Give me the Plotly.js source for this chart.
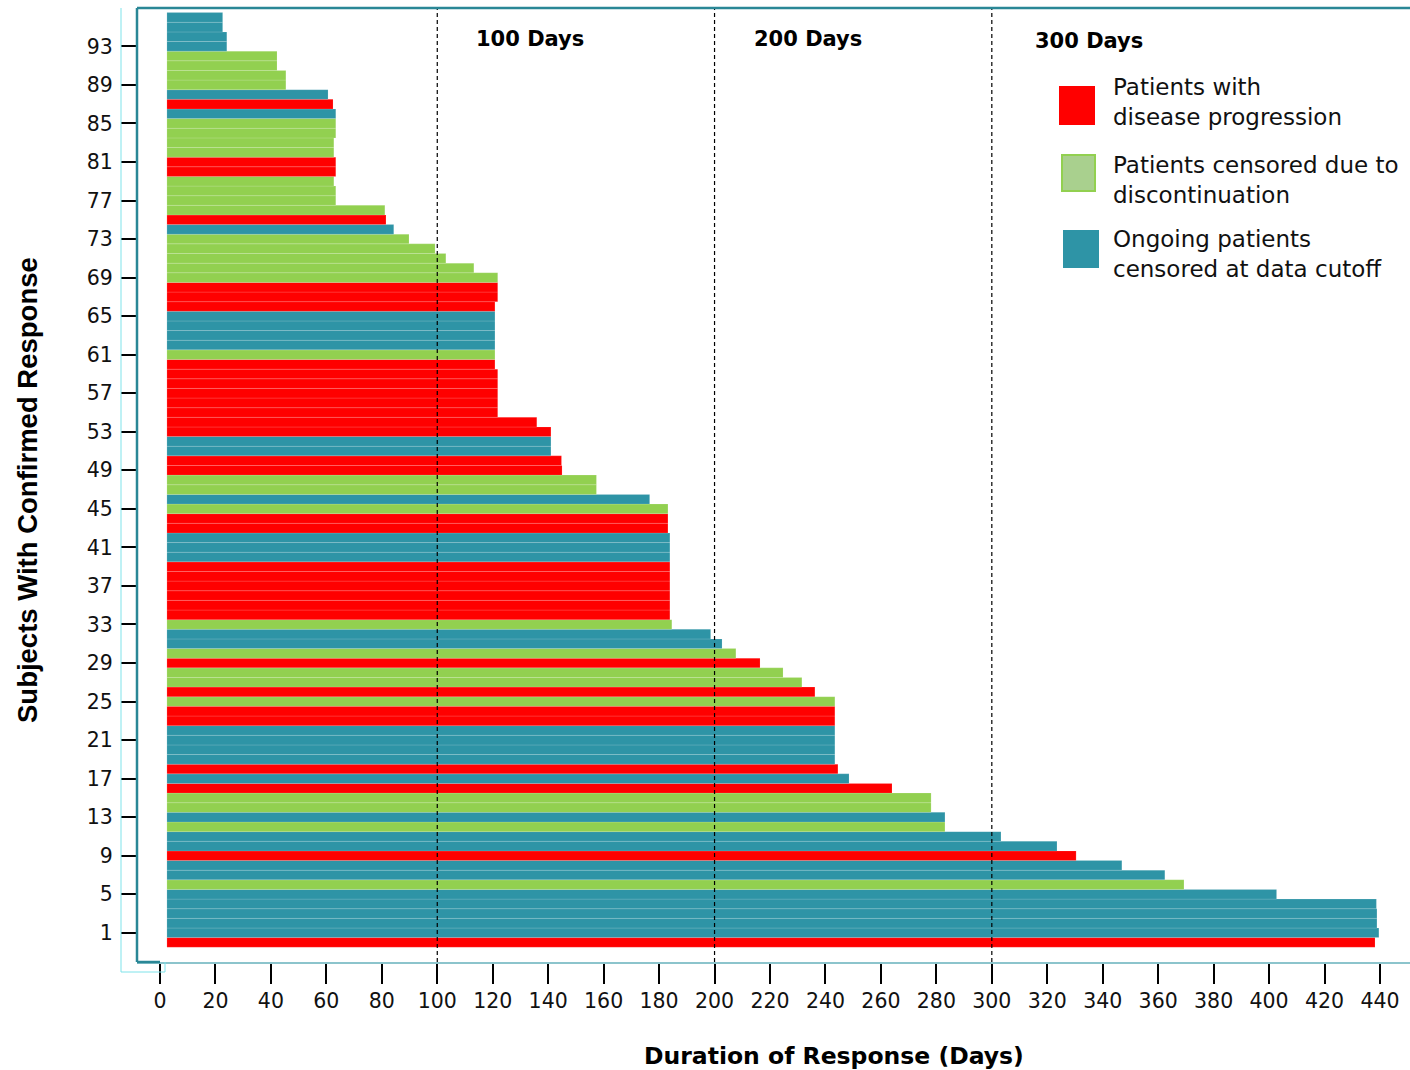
<!DOCTYPE html>
<html>
<head>
<meta charset="utf-8">
<script src="https://cdn.plot.ly/plotly-3.0.1.min.js"></script>
<style>
  html, body { margin: 0; padding: 0; background: #ffffff; }
  #chart { width: 1410px; height: 1070px; }
</style>
</head>
<body>
<div id="chart"></div>
<script>
// ---------------- DATA (subject rows from bottom to top) ----------------
// Duration of response (days, end of bar) for each subject row
const durations = [
  438.2, 439.6, 438.9, 438.9, 438.7, 402.7, 369.3, 362.4, 346.9, 330.4,
  323.5, 303.3, 283.1, 283.1, 278.1, 278.1, 264.0, 248.5, 244.5, 243.4,
  243.4, 243.4, 243.4, 243.4, 243.4, 243.4, 236.2, 231.5, 224.7, 216.4,
  207.7, 202.7, 198.6, 184.6, 183.9, 183.9, 183.9, 183.9, 183.9, 183.9,
  183.9, 183.9, 183.9, 183.2, 183.2, 183.2, 176.6, 157.4, 157.4, 145.0,
  144.8, 141.0, 141.0, 141.0, 135.9, 121.8, 121.8, 121.8, 121.8, 121.8,
  120.8, 120.8, 120.8, 120.8, 120.8, 120.8, 120.8, 121.8, 121.8, 121.8,
  113.2, 103.1, 99.2, 89.8, 84.3, 81.5, 81.1, 63.4, 63.4, 62.7,
  63.4, 63.4, 62.7, 62.7, 63.4, 63.4, 63.4, 62.4, 60.6, 45.4,
  45.4, 42.2, 42.2, 24.1, 24.1, 22.6, 22.6
];
// Status: P = disease progression, D = censored due to discontinuation, O = ongoing (censored at cutoff)
const statuses = [
  'P','O','O','O','O','O','D','O','O','P',
  'O','O','D','O','D','D','P','O','P','O',
  'O','O','O','P','P','D','P','D','D','P',
  'D','O','O','D','P','P','P','P','P','P',
  'O','O','O','P','P','D','O','D','D','P',
  'P','O','O','P','P','P','P','P','P','P',
  'P','D','O','O','O','O','P','P','P','D',
  'D','D','D','D','O','P','D','D','D','D',
  'P','P','D','D','D','D','O','P','O','D',
  'D','D','D','O','O','O','O'
];
const responseStart = 2.5;                // day at which the bars begin
const yTickVals = [1,5,9,13,17,21,25,29,33,37,41,45,49,53,57,61,65,69,73,77,81,85,89,93];
const xTickVals = [0,20,40,60,80,100,120,140,160,180,200,220,240,260,280,300,320,340,360,380,400,420,440];
const milestoneDays = [100, 200, 300];
const milestoneLabels = ['100 Days', '200 Days', '300 Days'];
const xTitle = 'Duration of Response (Days)';
const yTitle = 'Subjects With Confirmed Response';
const legendNames = {
  P: 'Patients with<br>disease progression',
  D: 'Patients censored due to<br>discontinuation',
  O: 'Ongoing patients<br>censored at data cutoff'
};

// ---------------- STYLE ----------------
const colors = { P: '#FF0000', D: '#92D050', O: '#2E94A6' };
const W = 1410, H = 1070;
const M = { l: 137, r: 0, t: 8, b: 108 };
const plotW = W - M.l - M.r, plotH = H - M.t - M.b;
const px2paperX = px => (px - M.l) / plotW;
const px2paperY = py => (H - M.b - py) / plotH;

const subjectRows = durations.map((_, i) => i);

const trace = {
  type: 'bar',
  orientation: 'h',
  y: subjectRows,
  x: durations.map(d => d - responseStart),
  base: responseStart,
  marker: {
    color: statuses.map(s => colors[s]),
    line: { color: 'rgba(255,255,255,0.28)', width: 0.5 }
  },
  hoverinfo: 'skip',
  showlegend: false
};

const frameColor = '#2A8796';
const shapes = [];
milestoneDays.forEach(d => shapes.push({
  type: 'line', xref: 'x', yref: 'paper', x0: d, x1: d, y0: 0, y1: 1,
  line: { color: '#000', width: 1.2, dash: '4px,3px' }
}));
// frame
shapes.push({ type: 'line', xref: 'paper', yref: 'paper', x0: 0, x1: 1, y0: 1, y1: 1, line: { color: frameColor, width: 2.5 } });
shapes.push({ type: 'line', xref: 'paper', yref: 'paper', x0: 0, x1: 0, y0: 0, y1: 1, line: { color: frameColor, width: 2.5 } });
shapes.push({ type: 'line', xref: 'paper', yref: 'paper', x0: 0, x1: px2paperX(160), y0: 0, y1: 0, line: { color: frameColor, width: 2.5 } });
shapes.push({
  type: 'path', xref: 'paper', yref: 'paper',
  path: `M ${px2paperX(121)} ${px2paperY(8)} L ${px2paperX(121)} ${px2paperY(972)} L ${px2paperX(165)} ${px2paperY(972)} L ${px2paperX(165)} ${px2paperY(962)}`,
  line: { color: '#7FE3EA', width: 1 }
});
// legend swatches
const legendBoxes = [
  { k: 'P', x0: 1060, x1: 1094, y0: 87, y1: 124, fill: colors.P, line: colors.P, ty: 102 },
  { k: 'D', x0: 1062, x1: 1095, y0: 155, y1: 191, fill: '#A9D08E', line: '#92D050', ty: 180 },
  { k: 'O', x0: 1064, x1: 1098, y0: 231, y1: 267, fill: colors.O, line: colors.O, ty: 254 }
];
legendBoxes.forEach(b => shapes.push({
  type: 'rect', xref: 'paper', yref: 'paper',
  x0: px2paperX(b.x0), x1: px2paperX(b.x1), y0: px2paperY(b.y1), y1: px2paperY(b.y0),
  fillcolor: b.fill, line: { color: b.line, width: 2 }
}));

const annotations = [];
const milestoneX = [530, 808, 1089], milestoneY = [39, 39, 41];
milestoneLabels.forEach((t, i) => annotations.push({
  text: '<b>' + t + '</b>', xref: 'paper', yref: 'paper',
  x: px2paperX(milestoneX[i]), y: px2paperY(milestoneY[i]),
  xanchor: 'center', yanchor: 'middle', showarrow: false,
  font: { family: 'DejaVu Sans', size: 21, color: '#000' }
}));
legendBoxes.forEach(b => annotations.push({
  text: legendNames[b.k], xref: 'paper', yref: 'paper',
  x: px2paperX(1111), y: px2paperY(b.ty), xanchor: 'left', yanchor: 'middle',
  align: 'left', showarrow: false,
  font: { family: 'DejaVu Sans', size: 23, color: '#111' }
}));
// axis titles (placed to match the original, off-centre)
annotations.push({
  text: '<b>' + xTitle + '</b>', xref: 'paper', yref: 'paper',
  x: px2paperX(834), y: px2paperY(1056), xanchor: 'center', yanchor: 'middle',
  showarrow: false, font: { family: 'DejaVu Sans', size: 23.5, color: '#000' }
});
annotations.push({
  text: '<b>' + yTitle + '</b>', xref: 'paper', yref: 'paper',
  x: px2paperX(27), y: px2paperY(490), xanchor: 'center', yanchor: 'middle',
  textangle: -90, showarrow: false,
  font: { family: 'Liberation Sans', size: 27.5, color: '#000' }
});

const layout = {
  width: W, height: H,
  margin: M,
  paper_bgcolor: '#ffffff', plot_bgcolor: '#ffffff',
  barmode: 'overlay', bargap: 0,
  showlegend: false,
  xaxis: {
    range: [-8.295, 450.82],
    tickmode: 'array', tickvals: xTickVals, ticktext: xTickVals.map(String),
    ticks: 'outside', ticklen: 20, tickwidth: 2, tickcolor: '#000',
    ticklabelstandoff: 0,
    showline: true, linecolor: '#8CC4CC', linewidth: 1.5,
    showgrid: false, zeroline: false,
    tickfont: { family: 'DejaVu Sans', size: 20.5, color: '#111' },
    title: { text: '' }
  },
  yaxis: {
    range: [-2.03, 96.98],
    tickmode: 'array', tickvals: yTickVals, ticktext: yTickVals.map(String),
    ticks: 'outside', ticklen: 15, tickwidth: 2, tickcolor: '#000',
    ticklabelstandoff: 4,
    showline: false, showgrid: false, zeroline: false,
    tickfont: { family: 'DejaVu Sans', size: 20.5, color: '#111' },
    title: { text: '' }
  },
  shapes: shapes,
  annotations: annotations
};

Plotly.newPlot('chart', [trace], layout, { displayModeBar: false, staticPlot: true });
</script>
</body>
</html>
